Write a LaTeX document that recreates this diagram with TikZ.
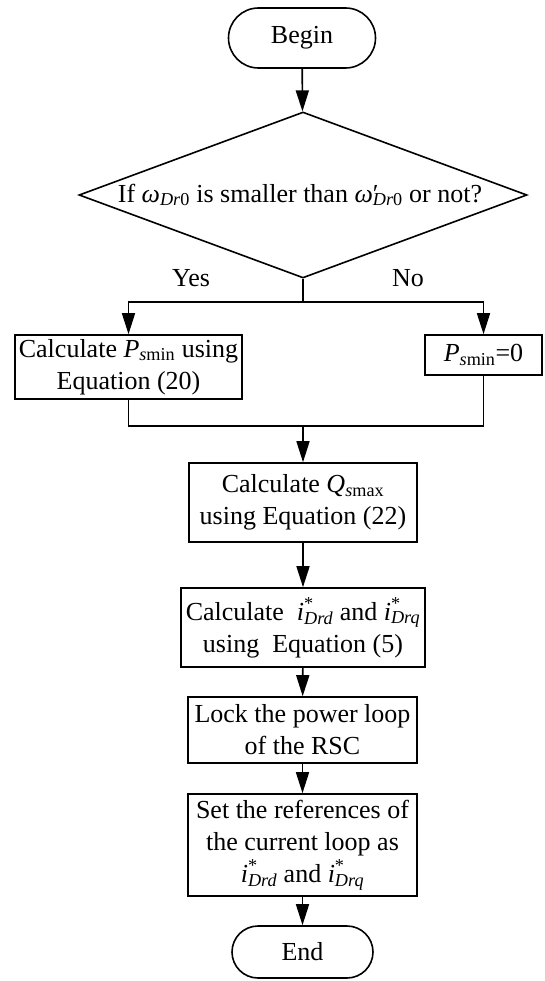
\documentclass[tikz,border=0pt]{standalone}
\usepackage{fontspec}
\setmainfont{Liberation Serif}
\usetikzlibrary{shapes.geometric,arrows.meta}
\newcommand{\isub}[1]{\textsubscript{#1}}
\newcommand{\istar}[1]{\textit{i}\rlap{\raisebox{2pt}{\textsuperscript{*}}}\textsubscript{\itshape #1}}
\tikzset{
  box/.style={draw, line width=1.6pt, inner sep=0pt, align=center},
  term/.style={box, rounded corners=26pt},
  flow/.style={line width=1.6pt, -{Triangle[length=21pt,width=13pt]}},
  line/.style={line width=1.6pt},
  lbl/.style={inner sep=0pt}
}
\begin{document}
\begin{tikzpicture}[x=1pt,y=-1pt,font=\fontsize{26}{32}\selectfont]
\useasboundingbox (0,0) rectangle (544,981);
\node[term, rounded corners=30pt, minimum width=147pt, minimum height=60pt] (begin) at (302,38) {Begin};
\node[draw, line width=1.6pt, diamond, inner sep=0pt, minimum width=448pt, minimum height=166pt, shape aspect=2.7] (dec) at (303,195)
  {\hspace{-6pt}If \textit{ω}\isub{\itshape Dr\upshape 0} is smaller than \textit{ω}\rlap{′}\isub{\itshape Dr\upshape 0} or not?\hspace{-6pt}};
\node[box, minimum width=227pt, minimum height=64pt] (calcP) at (128.5,367) {Calculate \textit{P}\isub{\itshape s\upshape min} using\\Equation (20)};
\node[box, minimum width=117pt, minimum height=40pt] (pzero) at (483.5,355) {\textit{P}\isub{\itshape s\upshape min}=0};
\node[box, minimum width=228pt, minimum height=79pt] (calcQ) at (303,502.5) {Calculate \textit{Q}\isub{\itshape s\upshape max}\\using Equation (22)};
\node[box, minimum width=244pt, minimum height=79pt] (calcI) at (303,627.5) {Calculate \ \istar{Drd} and \istar{Drq}\\using \ Equation (5)};
\node[box, minimum width=229pt, minimum height=66pt] (lock) at (302.5,730) {Lock the power loop\\of the RSC};
\node[box, minimum width=229pt, minimum height=102pt] (setref) at (302.5,845) {Set the references of\\the current loop as\\\istar{Drd} and \istar{Drq}};
\node[term, minimum width=141pt, minimum height=52pt] (end) at (302.5,952) {End};
\node[lbl] (yes) at (191,278) {Yes};
\node[lbl] (no) at (408,278) {No};
\coordinate (split) at (303,302);
\coordinate (merge) at (303,426);
\draw[flow] (begin) -- (dec);
\draw[line] (dec.south) -- (split);
\draw[flow] (split) -| (calcP.north);
\draw[flow] (split) -| (pzero.north);
\draw[line] (calcP.south) |- (merge);
\draw[line] (pzero.south) |- (merge);
\draw[flow] (merge) -- (calcQ);
\draw[flow] (calcQ) -- (calcI);
\draw[flow] (calcI) -- (lock);
\draw[flow] (lock) -- (setref);
\draw[flow] (setref) -- (end);
\end{tikzpicture}
\end{document}
